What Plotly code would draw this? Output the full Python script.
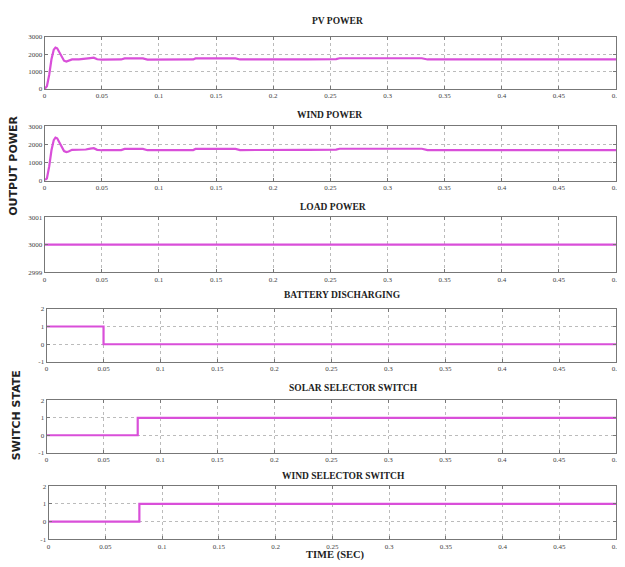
import plotly.graph_objects as go

W, H = 625, 567
OFF = 8  # default page body margin of the html page

# ---------------- data ----------------
time_ticks = [0, 0.05, 0.1, 0.15, 0.2, 0.25, 0.3, 0.35, 0.4, 0.45, 0.5]
time_tick_labels = ["0", "0.05", "0.1", "0.15", "0.2", "0.25", "0.3", "0.35", "0.4", "0.45", "0.5"]

pv_t = [0, 0.002, 0.004, 0.006, 0.008, 0.0095, 0.011, 0.013, 0.015, 0.017, 0.019, 0.021,
        0.024, 0.03, 0.036, 0.04, 0.043, 0.046, 0.05, 0.06, 0.067, 0.07, 0.08, 0.086,
        0.09, 0.1, 0.11, 0.13, 0.132, 0.15, 0.167, 0.171, 0.19, 0.21, 0.213, 0.23,
        0.255, 0.258, 0.3, 0.33, 0.335, 0.4, 0.5]
pv_power = [0, 150, 800, 1700, 2250, 2370, 2330, 2100, 1800, 1620, 1570, 1600,
            1690, 1700, 1720, 1770, 1790, 1700, 1680, 1680, 1690, 1750, 1760, 1750,
            1680, 1680, 1670, 1690, 1750, 1760, 1750, 1690, 1680, 1680, 1700, 1700,
            1710, 1760, 1760, 1760, 1690, 1690, 1690]

wind_t = [0, 0.002, 0.004, 0.006, 0.008, 0.0095, 0.011, 0.013, 0.015, 0.017, 0.019, 0.021,
          0.024, 0.03, 0.036, 0.04, 0.043, 0.046, 0.05, 0.06, 0.067, 0.07, 0.08, 0.086,
          0.09, 0.1, 0.11, 0.13, 0.132, 0.15, 0.167, 0.171, 0.19, 0.21, 0.213, 0.23,
          0.255, 0.258, 0.3, 0.33, 0.335, 0.4, 0.5]
wind_power = [0, 120, 780, 1680, 2240, 2380, 2340, 2110, 1810, 1630, 1580, 1610,
              1700, 1700, 1720, 1770, 1790, 1700, 1680, 1680, 1690, 1750, 1760, 1750,
              1680, 1680, 1670, 1690, 1750, 1760, 1750, 1690, 1680, 1680, 1700, 1700,
              1710, 1760, 1760, 1760, 1690, 1690, 1690]

load_t = [0, 0.5]
load_power = [3000, 3000]

battery_t = [0, 0.05, 0.5]
battery_state = [1, 0, 0]

solar_t = [0, 0.08, 0.5]
solar_state = [0, 1, 1]

windsel_t = [0, 0.08, 0.5]
windsel_state = [0, 1, 1]

power_ticks = [0, 1000, 2000, 3000]
load_ticks = [2999, 3000, 3001]
switch_ticks = [-1, 0, 1, 2]

# ---------------- layout helpers ----------------
def px_x(x):
    return (x - OFF) / W

def px_y(y):
    return 1 - (y - OFF) / H

panels = [
    # (x0, x1, ytop, ybottom, title, title_x, title_y, t, v, yrange, yticks, shape)
    (43, 621, 33, 86, "PV POWER", 339, 17, pv_t, pv_power, [0, 3000], power_ticks, "linear"),
    (43, 621, 124, 179, "WIND POWER", 331, 112, wind_t, wind_power, [0, 3000], power_ticks, "linear"),
    (43, 621, 216, 272, "LOAD POWER", 335, 206, load_t, load_power, [2999, 3001], load_ticks, "linear"),
    (45, 621, 309, 363, "BATTERY DISCHARGING", 344, 295, battery_t, battery_state, [-1, 2], switch_ticks, "hv"),
    (45, 621, 402, 455, "SOLAR SELECTOR SWITCH", 355, 389, solar_t, solar_state, [-1, 2], switch_ticks, "hv"),
    (47, 621, 489, 543, "WIND SELECTOR SWITCH", 345, 479, windsel_t, windsel_state, [-1, 2], switch_ticks, "hv"),
]

fig = go.Figure()
annotations = []
tick_font = dict(family="Liberation Serif", size=7, color="#444")
line_color = "#d94fd9"

for i, (x0, x1, yt, yb, title, tx, ty, t, v, yr, yticks, shape) in enumerate(panels, start=1):
    xa = "xaxis" if i == 1 else f"xaxis{i}"
    ya = "yaxis" if i == 1 else f"yaxis{i}"
    xref = "x" if i == 1 else f"x{i}"
    yref = "y" if i == 1 else f"y{i}"
    fig.add_trace(go.Scatter(
        x=t, y=v, mode="lines", xaxis=xref, yaxis=yref,
        line=dict(color=line_color, width=2.2, shape=shape),
        showlegend=False, hoverinfo="skip"))
    fig.layout[xa] = dict(
        domain=[px_x(x0), px_x(x1)], range=[0, 0.5], anchor=yref,
        tickvals=time_ticks, ticktext=time_tick_labels, tickfont=tick_font,
        showgrid=True, gridcolor="#bbbbbb", griddash="dot", gridwidth=1,
        showline=True, linecolor="#777", linewidth=1, mirror="ticks",
        ticks="inside", ticklen=3, tickcolor="#777", zeroline=False,
        fixedrange=True)
    fig.layout[ya] = dict(
        domain=[px_y(yb), px_y(yt)], range=yr, anchor=xref,
        tickvals=yticks, ticktext=[str(k) for k in yticks], tickfont=tick_font,
        showgrid=True, gridcolor="#bbbbbb", griddash="dot", gridwidth=1,
        showline=True, linecolor="#777", linewidth=1, mirror="ticks",
        ticks="inside", ticklen=3, tickcolor="#777", zeroline=False,
        fixedrange=True)
    annotations.append(dict(
        text=f"<b>{title}</b>", x=px_x(tx), y=px_y(ty), xref="paper", yref="paper",
        showarrow=False, xanchor="center", yanchor="middle",
        font=dict(family="Liberation Serif", size=9.5, color="#222")))

annotations.append(dict(
    text="<b>OUTPUT POWER</b>", x=px_x(12), y=px_y(164), xref="paper", yref="paper",
    showarrow=False, textangle=-90, xanchor="center", yanchor="middle",
    font=dict(family="DejaVu Sans", size=11, color="#222")))
annotations.append(dict(
    text="<b>SWITCH STATE</b>", x=px_x(14), y=px_y(417), xref="paper", yref="paper",
    showarrow=False, textangle=-90, xanchor="center", yanchor="middle",
    font=dict(family="DejaVu Sans", size=11, color="#222")))
annotations.append(dict(
    text="<b>TIME (SEC)</b>", x=px_x(337), y=px_y(559), xref="paper", yref="paper",
    showarrow=False, xanchor="center", yanchor="middle",
    font=dict(family="Liberation Serif", size=10.5, color="#222")))

fig.update_layout(
    width=W, height=H, margin=dict(l=0, r=0, t=0, b=0),
    paper_bgcolor="white", plot_bgcolor="white",
    annotations=annotations,
)

fig.write_html("out.html")
